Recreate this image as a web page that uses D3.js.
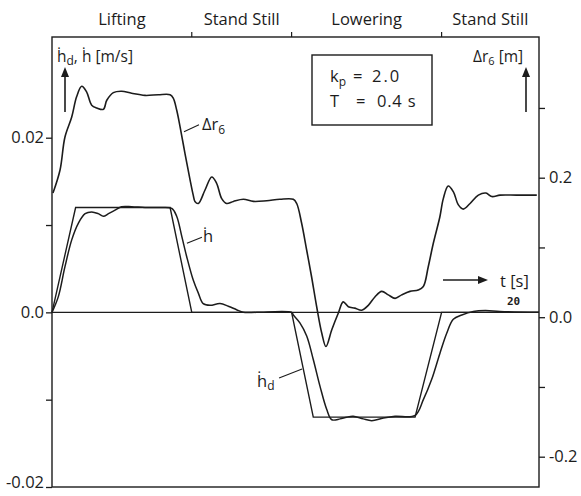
<!DOCTYPE html>
<html>
<head>
<meta charset="utf-8">
<script src="https://cdn.jsdelivr.net/npm/d3@7"></script>
<style>
  html, body { margin: 0; padding: 0; background: #fff; }
  svg text { font-family: "Open Sans", "DejaVu Sans", sans-serif; fill: #1c1c1c; }
</style>
</head>
<body>
<svg id="chart" width="581" height="496"></svg>
<script>
// ---- data -------------------------------------------------------------
// motion phases along the top edge and the times where one phase ends
const phaseNames = ["Lifting", "Stand Still", "Lowering", "Stand Still"];
const phaseEnds = [5.74, 9.84, 16.0];
const timeSpan = [0, 20];

// left axis: vertical velocity [m/s]
const velTicks = [-0.02, -0.01, 0, 0.01, 0.02];
const velTickLabels = ["-0.02", "", "0.0", "", "0.02"];
// right axis: rope length deviation [m]
const posTicks = [-0.2, -0.1, 0, 0.1, 0.2, 0.3];
const posTickLabels = ["-0.2", "", "0.0", "", "0.2", ""];

// controller parameters shown in the box
const gainKp = "2.0";
const timeConstT = "0.4 s";

// desired vertical velocity (trapezoid)  [t s, m/s]
const hdDesired = [
  [0, 0], [0.97, 0.012], [4.85, 0.012], [5.74, 0], [9.84, 0],
  [10.73, -0.012], [14.91, -0.012], [16.0, 0], [20, 0]
];

// measured vertical velocity  [t s, m/s]
const hActual = [
  [0, 0], [0.26, 0.0018], [0.53, 0.0052], [0.81, 0.0083], [1.08, 0.0102],
  [1.36, 0.0113], [1.63, 0.0115], [1.90, 0.0113], [2.11, 0.0110], [2.32, 0.0113],
  [2.59, 0.0117], [2.86, 0.0121], [3.27, 0.0121], [3.82, 0.0120], [4.37, 0.0120],
  [4.92, 0.0119], [5.12, 0.0110], [5.33, 0.0087], [5.53, 0.0064], [5.80, 0.0037],
  [6.01, 0.0022], [6.21, 0.0010], [6.49, 0.0008], [6.90, 0.0010], [7.24, 0.0007],
  [7.58, 0.0003], [7.86, 0.0000], [8.41, 0.0000], [9.84, 0.0000], [9.91, -0.0003],
  [10.18, -0.0012], [10.46, -0.0027], [10.73, -0.0054], [11.01, -0.0085], [11.28, -0.0111],
  [11.49, -0.0123], [11.83, -0.0122], [12.10, -0.0120], [12.37, -0.0119], [12.78, -0.0122],
  [13.13, -0.0124], [13.61, -0.0121], [14.09, -0.0119], [14.91, -0.0118], [15.25, -0.0100],
  [15.59, -0.0077], [15.93, -0.0047], [16.21, -0.0024], [16.48, -0.0008], [16.83, -0.0003],
  [17.30, 0.0001], [17.80, 0.0002], [18.40, 0.0001], [20, 0]
];

// rope length deviation delta r6  [t s, m]
const deltaR6 = [
  [0.04, 0.178], [0.33, 0.211], [0.53, 0.258], [0.81, 0.287], [1.01, 0.316],
  [1.22, 0.331], [1.42, 0.323], [1.63, 0.304], [1.84, 0.300], [2.11, 0.298],
  [2.25, 0.311], [2.52, 0.322], [2.86, 0.324], [3.27, 0.321], [3.82, 0.318],
  [4.37, 0.319], [4.85, 0.319], [4.98, 0.314], [5.12, 0.297], [5.26, 0.273],
  [5.46, 0.235], [5.67, 0.197], [5.80, 0.175], [5.87, 0.166], [6.01, 0.163],
  [6.28, 0.182], [6.56, 0.201], [6.76, 0.192], [6.97, 0.170], [7.17, 0.163],
  [7.45, 0.166], [7.86, 0.169], [8.27, 0.166], [8.82, 0.167], [9.36, 0.169],
  [9.91, 0.169], [10.05, 0.163], [10.25, 0.135], [10.46, 0.096], [10.66, 0.058],
  [10.87, 0.015], [11.08, -0.023], [11.25, -0.042], [11.49, -0.018], [11.76, 0.006],
  [11.96, 0.022], [12.17, 0.015], [12.44, 0.013], [12.72, 0.010], [12.99, 0.017],
  [13.26, 0.029], [13.54, 0.037], [13.81, 0.032], [14.09, 0.027], [14.36, 0.032],
  [14.70, 0.037], [15.04, 0.039], [15.25, 0.044], [15.45, 0.072], [15.66, 0.106],
  [15.93, 0.144], [16.07, 0.170], [16.27, 0.188], [16.48, 0.180], [16.69, 0.161],
  [16.89, 0.155], [17.17, 0.163], [17.51, 0.175], [17.82, 0.178], [18.06, 0.173],
  [18.40, 0.175], [19.08, 0.175], [19.91, 0.175]
];

// ---- layout -----------------------------------------------------------
const plotLeft = 52, plotRight = 539, plotTop = 37, plotBottom = 487;
const ink = "#1c1c1c";

const svg = d3.select("#chart");

const x = d3.scaleLinear().domain(timeSpan).range([plotLeft, plotRight]);
const yVel = d3.scaleLinear().domain([-0.02, 0.02]).range([plotBottom, 137.7]);
const yPos = d3.scaleLinear().domain([-0.2, 0.2]).range([456.7, 177.7]);

// frame
svg.append("rect")
  .attr("x", plotLeft).attr("y", plotTop)
  .attr("width", plotRight - plotLeft).attr("height", plotBottom - plotTop)
  .attr("fill", "none").attr("stroke", ink).attr("stroke-width", 1.4);

// time axis (zero velocity line)
svg.append("line")
  .attr("x1", plotLeft).attr("x2", plotRight)
  .attr("y1", yVel(0)).attr("y2", yVel(0))
  .attr("stroke", ink).attr("stroke-width", 1.3);

// left axis
const axL = svg.append("g").attr("transform", `translate(${plotLeft},0)`)
  .call(d3.axisLeft(yVel).tickValues(velTicks).tickSize(6).tickPadding(2)
    .tickFormat((d, i) => velTickLabels[i]));
// right axis
const axR = svg.append("g").attr("transform", `translate(${plotRight},0)`)
  .call(d3.axisRight(yPos).tickValues(posTicks).tickSize(6).tickPadding(4)
    .tickFormat((d, i) => posTickLabels[i]));
[axL, axR].forEach(g => {
  g.select(".domain").remove();
  g.selectAll(".tick line").attr("stroke", ink).attr("stroke-width", 1.3);
  g.selectAll(".tick text").attr("font-size", 16.5).attr("fill", ink)
    .style("font-family", "'Open Sans', sans-serif");
});
// keep the lowest left label inside the page
axL.selectAll(".tick text").filter(d => d === velTicks[0]).attr("dy", "0.05em");

// phase marks and names along the top edge
svg.selectAll(".phase-tick").data(phaseEnds).enter().append("line")
  .attr("x1", d => x(d)).attr("x2", d => x(d))
  .attr("y1", plotTop).attr("y2", plotTop - 5)
  .attr("stroke", ink).attr("stroke-width", 1.2);
const bounds = [timeSpan[0], ...phaseEnds, timeSpan[1]];
svg.selectAll(".phase-name").data(phaseNames).enter().append("text")
  .attr("x", (d, i) => x((bounds[i] + bounds[i + 1]) / 2))
  .attr("y", 25)
  .attr("text-anchor", "middle")
  .attr("font-size", 16.5)
  .text(d => d);

// curves
const lineVel = d3.line().x(d => x(d[0])).y(d => yVel(d[1]));
const lineVelSmooth = d3.line().x(d => x(d[0])).y(d => yVel(d[1])).curve(d3.curveCatmullRom.alpha(0.5));
const linePos = d3.line().x(d => x(d[0])).y(d => yPos(d[1])).curve(d3.curveCatmullRom.alpha(0.5));

svg.append("path").attr("d", lineVel(hdDesired))
  .attr("fill", "none").attr("stroke", ink).attr("stroke-width", 1.4);
svg.append("path").attr("d", lineVelSmooth(hActual))
  .attr("fill", "none").attr("stroke", ink).attr("stroke-width", 1.5);
svg.append("path").attr("d", linePos(deltaR6))
  .attr("fill", "none").attr("stroke", ink).attr("stroke-width", 1.6);

// arrow helper
function arrow(x1, y1, x2, y2) {
  const ang = Math.atan2(y2 - y1, x2 - x1);
  const L = 10, W = 4;
  const bx = x2 - L * Math.cos(ang), by = y2 - L * Math.sin(ang);
  svg.append("line").attr("x1", x1).attr("y1", y1).attr("x2", bx).attr("y2", by)
    .attr("stroke", ink).attr("stroke-width", 1.6);
  svg.append("path")
    .attr("d", `M${x2},${y2} L${bx - W * Math.sin(ang)},${by + W * Math.cos(ang)} L${bx + W * Math.sin(ang)},${by - W * Math.cos(ang)} Z`)
    .attr("fill", ink);
}

// axis titles
const tl = svg.append("text").attr("x", 57).attr("y", 62).attr("font-size", 15.5);
tl.append("tspan").text("ḣ");
tl.append("tspan").attr("font-size", 12).attr("dy", 3).text("d");
tl.append("tspan").attr("dy", -3).text(", ḣ [m/s]");
arrow(65, 112, 65, 67);

const tr = svg.append("text").attr("x", 473).attr("y", 62).attr("font-size", 15.5);
tr.append("tspan").text("Δr");
tr.append("tspan").attr("font-size", 11).attr("dy", 3).text("6");
tr.append("tspan").attr("dy", -3).text(" [m]");
arrow(526, 112, 526, 67);

// time arrow
arrow(443, 280, 488, 280);
svg.append("text").attr("x", 500).attr("y", 287).attr("font-size", 16.5).text("t [s]");
svg.append("text").attr("x", 507).attr("y", 305).attr("font-size", 11)
  .attr("font-weight", "bold")
  .style("font-family", "'DejaVu Sans Mono', monospace").text("20");

// parameter box
svg.append("rect").attr("x", 312).attr("y", 55).attr("width", 120).attr("height", 70)
  .attr("fill", "#fff").attr("stroke", ink).attr("stroke-width", 1.4);
const k = svg.append("text").attr("x", 330).attr("y", 82).attr("font-size", 16.5);
k.append("tspan").text("k");
k.append("tspan").attr("font-size", 12).attr("dy", 4).text("p");
k.append("tspan").attr("dy", -4).attr("x", 353).text("=");
k.append("tspan").attr("x", 372).attr("letter-spacing", 2).text(gainKp);
const tt = svg.append("text").attr("y", 107).attr("font-size", 16.5);
tt.append("tspan").attr("x", 330).text("T");
tt.append("tspan").attr("x", 356).text("=");
tt.append("tspan").attr("x", 377).attr("letter-spacing", 0.8).text(timeConstT);

// curve labels with leader lines
function tag(ax, ay, dx, dy) {
  svg.append("line").attr("x1", ax).attr("y1", ay).attr("x2", ax + dx).attr("y2", ay + dy)
    .attr("stroke", ink).attr("stroke-width", 1.1);
  return svg.append("text").attr("font-size", 16.5);
}
// delta r6
{
  const ax = x(5.42), ay = yPos(0.266);
  const t = tag(ax, ay, 15, -7);
  t.attr("x", ax + 18).attr("y", ay - 2);
  t.append("tspan").text("Δr");
  t.append("tspan").attr("font-size", 12).attr("dy", 4).text("6");
}
// h dot
{
  const ax = x(5.54), ay = yVel(0.0079);
  const t = tag(ax, ay, 15, -6);
  t.attr("x", ax + 16).attr("y", ay - 1).text("ḣ");
}
// h dot desired
{
  const ax = x(10.27), ay = yVel(-0.0065);
  const t = tag(ax, ay, -23, 9);
  t.attr("x", ax - 45).attr("y", ay + 18);
  t.append("tspan").text("ḣ");
  t.append("tspan").attr("font-size", 12).attr("dy", 3).text("d");
}
</script>
</body>
</html>
